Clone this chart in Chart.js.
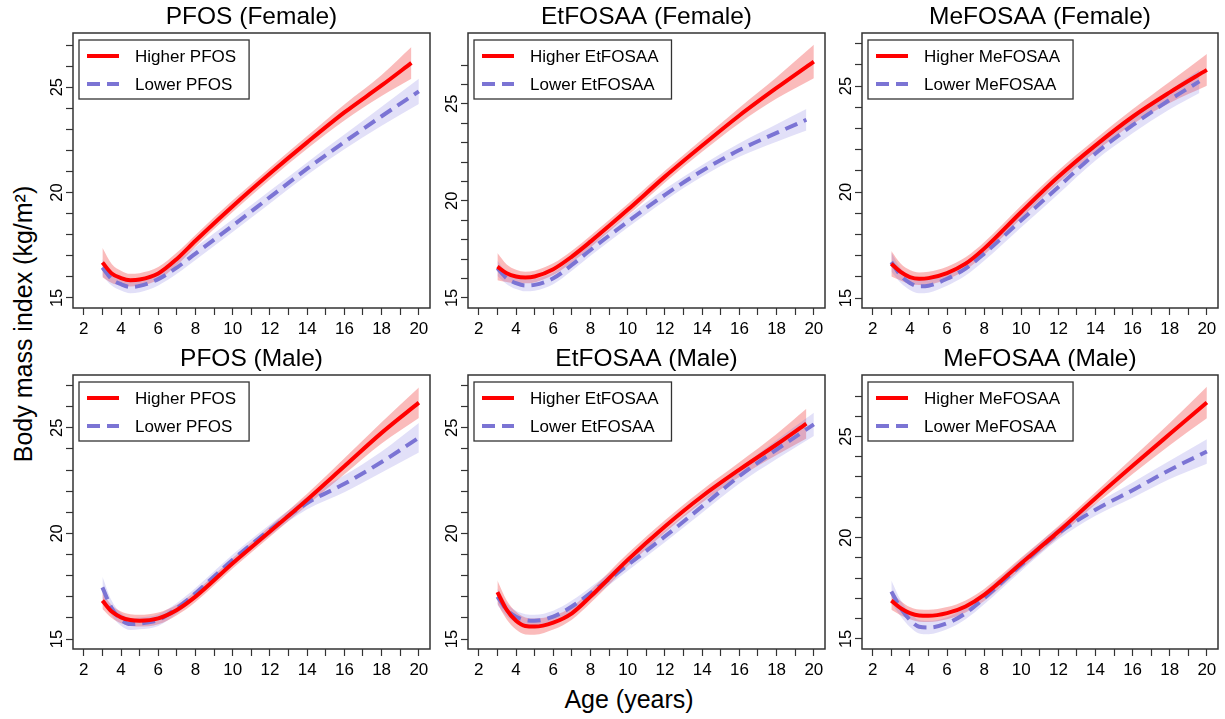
<!DOCTYPE html>
<html>
<head>
<meta charset="utf-8">
<script src="https://cdn.jsdelivr.net/npm/chart.js@4.4.1/dist/chart.umd.min.js"></script>
<style>
  body { margin: 0; background: #fff; }
  #wrap { position: relative; width: 1225px; height: 719px; overflow: hidden; font-family: "Liberation Sans", Arial, sans-serif; }
  #wrap canvas { position: absolute; }
  .axisTitle { position: absolute; font-size: 25px; color: #000; text-align: center; white-space: nowrap; }
  #yTitle { left: -177px; top: 309px; width: 400px; height: 30px; line-height: 30px; transform: rotate(-90deg); }
  #xTitle { left: 429px; top: 687px; width: 400px; line-height: 25px; }
</style>
</head>
<body>
<div id="wrap">
  <div id="yTitle" class="axisTitle">Body mass index (kg/m²)</div>
  <div id="xTitle" class="axisTitle">Age (years)</div>
</div>
<script>
// =====================
// DATA
// panel order: PFOS F, EtFOSAA F, MeFOSAA F, PFOS M, EtFOSAA M, MeFOSAA M
// =====================
const chemicals = ["PFOS", "EtFOSAA", "MeFOSAA"]
const sexes = ["Female", "Male"]

// ages of the curve points; the last point of each curve sits at its own end age
const ages = [3, 3.5, 4, 4.5, 5, 6, 7, 8, 10, 12, 14, 16, 18]
const higherEnd = [19.6, 20, 20, 20, 19.6, 20]
const lowerEnd  = [20, 19.6, 19.6, 20, 20, 20]

const xTicks = [2, 3, 4, 5, 6, 7, 8, 9, 10, 11, 12, 13, 14, 15, 16, 17, 18, 19, 20]
const xTickLabels = [2, 4, 6, 8, 10, 12, 14, 16, 18, 20]
const yTicks = [15, 16, 17, 18, 19, 20, 21, 22, 23, 24, 25, 26, 27]
const yTickLabels = [15, 20, 25]

const xMin = 1.42
const xMax = 20.6
const yMin = [14.52, 14.48, 14.53, 14.53, 14.53, 14.5]
const yMax = [27.57, 28.65, 27.5, 27.5, 27.5, 28.04]

// higher exposure: fitted BMI and half width of the band
const higherFit = [
  [16.68, 16.16, 15.94, 15.84, 15.87, 16.16, 16.85, 17.71, 19.35, 20.90, 22.38, 23.80, 25.08, 26.15],
  [16.61, 16.27, 16.10, 16.05, 16.10, 16.48, 17.13, 17.90, 19.54, 21.25, 22.85, 24.40, 25.82, 27.18],
  [16.62, 16.23, 15.99, 15.91, 15.94, 16.18, 16.62, 17.33, 19.06, 20.72, 22.20, 23.55, 24.70, 25.76],
  [16.82, 16.30, 16.03, 15.90, 15.87, 15.98, 16.38, 17.01, 18.59, 20.09, 21.60, 23.18, 24.76, 26.19],
  [17.22, 16.38, 15.87, 15.62, 15.59, 15.78, 16.22, 17.01, 18.75, 20.33, 21.76, 23.02, 24.21, 25.20],
  [16.89, 16.52, 16.27, 16.15, 16.14, 16.27, 16.60, 17.17, 18.74, 20.30, 21.95, 23.55, 25.12, 26.68]
]
const higherCI = [
  [0.70, 0.45, 0.35, 0.30, 0.30, 0.30, 0.30, 0.28, 0.28, 0.28, 0.30, 0.38, 0.50, 0.75],
  [0.70, 0.45, 0.35, 0.30, 0.30, 0.30, 0.30, 0.30, 0.30, 0.30, 0.32, 0.40, 0.55, 0.86],
  [0.60, 0.40, 0.33, 0.30, 0.30, 0.30, 0.30, 0.30, 0.30, 0.30, 0.30, 0.35, 0.50, 0.75],
  [0.40, 0.30, 0.28, 0.28, 0.28, 0.28, 0.25, 0.25, 0.25, 0.25, 0.28, 0.38, 0.50, 0.72],
  [0.55, 0.45, 0.42, 0.40, 0.38, 0.33, 0.30, 0.30, 0.30, 0.30, 0.30, 0.35, 0.50, 0.70],
  [0.45, 0.35, 0.30, 0.30, 0.30, 0.30, 0.30, 0.30, 0.28, 0.28, 0.30, 0.40, 0.55, 0.78]
]

// lower exposure
const lowerFit = [
  [16.44, 15.89, 15.65, 15.52, 15.57, 15.89, 16.44, 17.10, 18.43, 19.78, 21.13, 22.40, 23.62, 24.80],
  [16.53, 16.01, 15.76, 15.64, 15.67, 16.01, 16.70, 17.47, 18.93, 20.31, 21.55, 22.62, 23.50, 24.18],
  [16.70, 16.07, 15.71, 15.55, 15.58, 15.91, 16.39, 17.09, 18.67, 20.24, 21.82, 23.15, 24.35, 25.22],
  [17.45, 16.46, 15.93, 15.71, 15.74, 15.90, 16.46, 17.17, 18.75, 20.17, 21.44, 22.35, 23.38, 24.53],
  [17.01, 16.38, 16.06, 15.90, 15.87, 16.06, 16.54, 17.17, 18.51, 19.86, 21.28, 22.71, 23.97, 25.16],
  [17.34, 16.52, 15.94, 15.60, 15.56, 15.77, 16.27, 17.01, 18.66, 20.22, 21.38, 22.35, 23.35, 24.26]
]
const lowerCI = [
  [0.40, 0.30, 0.30, 0.30, 0.30, 0.30, 0.30, 0.30, 0.30, 0.30, 0.30, 0.35, 0.45, 0.60],
  [0.40, 0.30, 0.30, 0.30, 0.30, 0.30, 0.30, 0.30, 0.30, 0.30, 0.30, 0.35, 0.45, 0.55],
  [0.45, 0.35, 0.33, 0.33, 0.33, 0.33, 0.33, 0.33, 0.33, 0.33, 0.33, 0.38, 0.45, 0.55],
  [0.50, 0.35, 0.30, 0.28, 0.28, 0.28, 0.25, 0.25, 0.25, 0.25, 0.30, 0.40, 0.50, 0.70],
  [0.40, 0.30, 0.28, 0.28, 0.28, 0.28, 0.28, 0.28, 0.28, 0.28, 0.30, 0.35, 0.45, 0.55],
  [0.55, 0.40, 0.35, 0.33, 0.33, 0.30, 0.30, 0.30, 0.30, 0.30, 0.30, 0.38, 0.45, 0.60]
]

// =====================
// STYLE / LAYOUT
// =====================
const FONT = '"Liberation Sans", Arial, sans-serif'
const RED = "#ff0000"
const RED_BAND = "rgba(240,60,60,0.35)"
const BLUE = "#7b74d4"
const BLUE_BAND = "rgba(110,100,220,0.2)"

const boxLeft = [73, 468, 862]
const boxRight = [430, 825, 1218]
const boxTop = [33, 375]
const boxBottom = [308, 649]
const Y_AXIS_W = 45
const X_AXIS_H = 42
const TITLE_H = 33
const PAD_RIGHT = 6

// points of a curve (sign = 0 fit, -1 lower bound, +1 upper bound)
function points(fit, end, ci, sign){
  return fit.map((v, i) => ({
    x: i < ages.length ? ages[i] : end,
    y: ci ? v + sign * ci[i] : v
  }))
}

// =====================
// PLUGINS
// =====================
const frame = {
  id: "frame",
  afterDatasetsDraw(chart){
    const {ctx, chartArea: a} = chart
    ctx.save()
    ctx.strokeStyle = "#333"
    ctx.lineWidth = 1.5
    ctx.strokeRect(a.left, a.top, a.width, a.height)
    ctx.restore()
  }
}

// boxed legend in the top-left corner like R's legend()
const boxLegend = {
  id: "boxLegend",
  afterDatasetsDraw(chart){
    const {ctx, chartArea: a} = chart
    const items = chart.data.datasets.filter(d => d.label)
    ctx.save()
    ctx.font = "17px " + FONT
    const tw = Math.max(...items.map(d => ctx.measureText(d.label).width))
    const x0 = a.left + 6, y0 = a.top + 7
    const w = 56 + tw + 13, h = 59
    ctx.fillStyle = "#fff"
    ctx.fillRect(x0, y0, w, h)
    ctx.strokeStyle = "#333"
    ctx.lineWidth = 1.3
    ctx.strokeRect(x0, y0, w, h)
    items.forEach((d, i) => {
      const y = y0 + 16 + i * 28
      ctx.strokeStyle = d.borderColor
      ctx.lineWidth = d.borderWidth
      ctx.setLineDash(d.borderDash || [])
      ctx.beginPath()
      ctx.moveTo(x0 + 8, y)
      ctx.lineTo(x0 + 40, y)
      ctx.stroke()
      ctx.setLineDash([])
      ctx.fillStyle = "#000"
      ctx.textBaseline = "middle"
      ctx.textAlign = "left"
      ctx.fillText(d.label, x0 + 56, y + 1)
    })
    ctx.restore()
  }
}

// =====================
// PANELS
// =====================
function makeDatasets(p){
  const name = chemicals[p % 3]
  return [
    { label: "Higher " + name, data: points(higherFit[p], higherEnd[p]), borderColor: RED, borderWidth: 4, order: 0 },
    { label: "Lower " + name, data: points(lowerFit[p], lowerEnd[p]), borderColor: BLUE, borderWidth: 4, borderDash: [13, 7], order: 1 },
    { data: points(higherFit[p], higherEnd[p], higherCI[p], -1), borderColor: "rgba(0,0,0,0)", borderWidth: 0, order: 5 },
    { data: points(higherFit[p], higherEnd[p], higherCI[p], 1), borderColor: "rgba(0,0,0,0)", borderWidth: 0, fill: "-1", backgroundColor: RED_BAND, order: 4 },
    { data: points(lowerFit[p], lowerEnd[p], lowerCI[p], -1), borderColor: "rgba(0,0,0,0)", borderWidth: 0, order: 3 },
    { data: points(lowerFit[p], lowerEnd[p], lowerCI[p], 1), borderColor: "rgba(0,0,0,0)", borderWidth: 0, fill: "-1", backgroundColor: BLUE_BAND, order: 2 }
  ]
}

function tickStyle(){
  return { drawOnChartArea: false, drawTicks: true, tickLength: 7, tickColor: "#333", tickWidth: 1.2 }
}

const wrap = document.getElementById("wrap")

for(let r = 0; r < 2; r++){
  for(let c = 0; c < 3; c++){
    const p = r * 3 + c
    const canvas = document.createElement("canvas")
    const w = boxRight[c] - boxLeft[c] + Y_AXIS_W + PAD_RIGHT
    const h = boxBottom[r] - boxTop[r] + TITLE_H + X_AXIS_H
    canvas.width = w
    canvas.height = h
    canvas.style.left = (boxLeft[c] - Y_AXIS_W) + "px"
    canvas.style.top = (boxTop[r] - TITLE_H) + "px"
    canvas.style.width = w + "px"
    canvas.style.height = h + "px"
    wrap.appendChild(canvas)

    new Chart(canvas, {
      type: "line",
      data: { datasets: makeDatasets(p) },
      options: {
        responsive: false,
        animation: false,
        devicePixelRatio: 1,
        events: [],
        layout: { padding: { left: 0, right: PAD_RIGHT, top: 0, bottom: 0 } },
        elements: {
          point: { radius: 0 },
          line: { cubicInterpolationMode: "monotone", borderCapStyle: "butt" }
        },
        plugins: {
          legend: { display: false },
          tooltip: { enabled: false },
          title: {
            display: true,
            text: chemicals[c] + " (" + sexes[r] + ")",
            fullSize: false,
            color: "#000",
            font: { size: 24.5, weight: "normal", family: FONT, lineHeight: 1 },
            padding: { top: 5, bottom: 3.5 }
          }
        },
        scales: {
          x: {
            type: "linear",
            min: xMin,
            max: xMax,
            afterBuildTicks: s => { s.ticks = xTicks.map(v => ({ value: v })) },
            afterFit: s => { s.height = X_AXIS_H },
            ticks: {
              autoSkip: false, maxRotation: 0, padding: 4, color: "#000",
              font: { size: 17, family: FONT },
              callback: v => xTickLabels.includes(v) ? String(v) : ""
            },
            grid: tickStyle(),
            border: { display: false }
          },
          y: {
            type: "linear",
            min: yMin[p],
            max: yMax[p],
            afterBuildTicks: s => { s.ticks = yTicks.map(v => ({ value: v })) },
            afterFit: s => { s.width = Y_AXIS_W },
            ticks: {
              autoSkip: false, minRotation: 90, maxRotation: 90, crossAlign: "center", padding: -1, color: "#000",
              font: { size: 16.5, family: FONT },
              callback: v => yTickLabels.includes(v) ? String(v) : ""
            },
            grid: tickStyle(),
            border: { display: false }
          }
        }
      },
      plugins: [frame, boxLegend]
    })
  }
}
</script>
</body>
</html>
